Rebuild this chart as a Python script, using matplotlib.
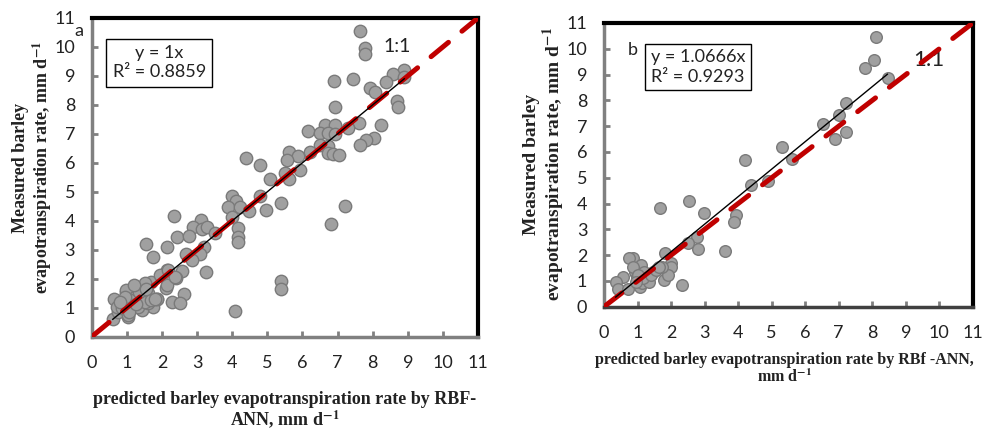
import matplotlib
matplotlib.use("Agg")
import matplotlib.pyplot as plt
import numpy as np

plt.rcParams['font.family'] = ['Lato', 'DejaVu Sans']
plt.rcParams['mathtext.fontset'] = 'stix'

# panel a: predicted (RBF-ANN) vs measured, mm/d
a_pred = [7.65, 7.77, 7.77, 8.88, 8.57, 8.88, 7.43, 6.90, 8.38, 7.91, 8.07, 8.68, 8.71, 6.92,
          7.60, 8.23, 7.30, 6.64, 6.92, 6.17, 6.50, 6.74, 6.92, 8.03, 7.81, 7.65, 6.51, 6.74,
          6.22, 6.74, 6.88, 7.03, 5.63, 5.88, 5.57, 4.40, 4.80, 5.94, 5.50, 5.09, 5.63, 3.99,
          4.80, 4.12, 3.88, 4.21, 4.47, 4.97, 5.40, 7.21, 4.00, 2.33, 3.11, 6.82, 2.89, 3.15,
          3.29, 3.52, 4.17, 4.17, 4.17, 2.43, 2.77, 1.54, 2.15, 3.19, 3.08, 2.68, 2.86, 1.75,
          3.25, 2.15, 2.58, 2.39, 1.99, 1.70, 2.11, 2.15, 1.28, 1.51, 5.40, 5.40, 2.62, 2.30,
          2.51, 1.86, 0.99, 0.99, 4.07, 0.63, 0.61, 1.04, 1.42, 1.66, 1.75, 0.76, 0.71, 0.99,
          1.23, 1.42, 1.60, 1.85, 1.42, 1.04, 1.18, 0.90, 1.61, 1.94, 2.16, 2.37, 1.14, 1.33,
          0.86, 1.51, 1.70, 1.10, 0.95, 1.80, 1.36, 1.20, 0.80, 1.55, 1.05, 1.25]
a_meas = [10.54, 9.97, 9.75, 9.22, 9.08, 8.96, 8.90, 8.81, 8.78, 8.58, 8.43, 8.13, 7.91, 7.92,
          7.39, 7.31, 7.20, 7.30, 7.30, 7.09, 7.03, 7.03, 7.01, 6.85, 6.78, 6.61, 6.61, 6.59,
          6.36, 6.35, 6.30, 6.27, 6.38, 6.25, 6.09, 6.16, 5.94, 5.74, 5.65, 5.43, 5.43, 4.85,
          4.86, 4.68, 4.48, 4.48, 4.33, 4.37, 4.62, 4.51, 4.14, 4.16, 4.02, 3.89, 3.79, 3.70,
          3.77, 3.59, 3.74, 3.43, 3.28, 3.43, 3.47, 3.20, 3.10, 3.10, 2.85, 2.87, 2.64, 2.76,
          2.23, 2.30, 2.28, 2.01, 2.13, 1.90, 1.67, 1.80, 1.72, 1.84, 1.92, 1.63, 1.47, 1.21,
          1.17, 1.29, 1.38, 1.55, 0.90, 1.29, 0.60, 0.69, 0.94, 1.15, 1.03, 0.86, 1.03, 1.61,
          1.38, 1.44, 1.50, 1.29, 0.92, 0.75, 1.15, 1.15, 1.15, 2.13, 2.30, 2.05, 0.98, 1.03,
          0.98, 1.20, 1.26, 1.26, 1.38, 1.30, 1.55, 1.80, 1.20, 1.65, 0.85, 1.12]

# panel b
b_pred = [8.12, 8.04, 7.77, 8.47, 7.23, 7.01, 6.54, 7.21, 6.88, 5.31, 5.60, 4.21, 4.37, 4.88,
          1.68, 2.54, 2.99, 3.93, 3.88, 3.62, 2.77, 2.81, 2.51, 1.82, 2.01, 1.99, 1.80, 1.92,
          1.72, 2.34, 0.87, 0.75, 1.11, 0.91, 0.87, 0.57, 0.37, 0.42, 0.72, 1.06, 1.26, 1.30,
          1.45, 1.60, 1.18, 0.98, 1.13, 1.33, 1.16, 1.00, 0.95, 1.41, 1.55, 1.65]
b_meas = [10.47, 9.56, 9.24, 8.85, 7.91, 7.43, 7.08, 6.77, 6.49, 6.20, 5.74, 5.69, 4.72, 4.88,
          3.81, 4.11, 3.64, 3.55, 3.30, 2.17, 2.69, 2.24, 2.48, 2.09, 1.71, 1.55, 1.03, 1.23,
          1.53, 0.84, 1.87, 1.87, 1.62, 1.36, 1.55, 1.14, 0.97, 0.67, 0.67, 0.78, 1.03, 1.23,
          1.36, 1.49, 1.36, 1.17, 0.91, 0.97, 1.10, 1.23, 0.97, 1.23, 1.42, 1.55]

ticks = list(range(0, 12))
slope_a, r2_a, fit_a = 1.0, 0.8859, (0.6, 8.9)
slope_b, r2_b, fit_b = 1.0666, 0.9293, (0.35, 8.45)

ylab = 'Measured barley\nevapotranspiration rate, mm d$^{\\mathbf{-1}}$'
xlab_a = 'predicted barley evapotranspiration rate by RBF-\nANN, mm d$^{\\mathbf{-1}}$'
xlab_b = 'predicted barley evapotranspiration rate by RBf -ANN,\nmm d$^{\\mathbf{-1}}$'

fig = plt.figure(figsize=(9.85, 4.29), dpi=100)
ax_a = fig.add_axes([0.0931, 0.2152, 0.3922, 0.7430])
ax_b = fig.add_axes([0.6132, 0.2851, 0.3745, 0.6613])


def style_axes(ax):
    ax.set_xlim(0, 11)
    ax.set_ylim(0, 11)
    ax.set_xticks(ticks)
    ax.set_yticks(ticks)
    ax.tick_params(direction='in', length=4, width=2, color='#808080',
                   labelsize=13, labelcolor='#222222')
    ax.tick_params(axis='x', pad=13)
    ax.tick_params(axis='y', pad=12)
    for side in ['left', 'bottom']:
        ax.spines[side].set_color('#808080')
        ax.spines[side].set_linewidth(2.5)
    for side in ['top', 'right']:
        ax.spines[side].set_color('black')
        ax.spines[side].set_linewidth(3)


def labels(ax, ysize, ypos, xsize, xpos):
    ax.set_ylabel(ylab, family='Liberation Serif', weight='bold', fontsize=ysize,
                  linespacing=1.05, color='#222222')
    ax.yaxis.set_label_coords(*ypos)
    ax.yaxis.label.set_va('center')
    xl = xlab_a if ax is ax_a else xlab_b
    ax.set_xlabel(xl, family='Liberation Serif', weight='bold', fontsize=xsize,
                  linespacing=1.05, color='#222222')
    ax.xaxis.set_label_coords(*xpos)
    ax.xaxis.label.set_va('center')


def draw_panel(ax, pred, meas, slope, fit_range, msize):
    ax.plot([0, 11], [0, 11], color='#c00000', lw=3.6, dashes=(4.5, 3.5),
            dash_capstyle='round', zorder=4)
    ax.scatter(pred, meas, s=msize, facecolor='#a0a0a0', edgecolor='#7a7a7a',
               linewidth=1, zorder=3)
    xs = np.array(fit_range)
    ax.plot(xs, slope * xs, color='black', lw=1, zorder=5)


# panel a
draw_panel(ax_a, a_pred, a_meas, slope_a, fit_a, 80)
style_axes(ax_a)
labels(ax_a, 13, (-0.152, 0.53), 13, (0.5, -0.233))
ax_a.text(0.175, 0.86, 'y = 1x\nR² = {:.4f}'.format(r2_a), transform=ax_a.transAxes,
          ha='center', va='center', fontsize=13, linespacing=1.25, color='#222222',
          bbox=dict(boxstyle='square,pad=0.35', facecolor='white', edgecolor='black', lw=1),
          zorder=6)
ax_a.text(-0.032, 0.958, 'a', transform=ax_a.transAxes, ha='center', va='center',
          fontsize=13, color='#222222')
ax_a.text(8.7, 10.0, '1:1', ha='center', va='center', fontsize=14, color='#222222')

# panel b
draw_panel(ax_b, b_pred, b_meas, slope_b, fit_b, 70)
style_axes(ax_b)
ax_b.spines['bottom'].set_color('#404040')
labels(ax_b, 14, (-0.16, 0.503), 11.5, (0.49, -0.22))
ax_b.text(0.255, 0.845, 'y = 1.0666x\nR² = {:.4f}'.format(r2_b), transform=ax_b.transAxes,
          ha='center', va='center', fontsize=13, linespacing=1.25, color='#222222',
          bbox=dict(boxstyle='square,pad=0.3', facecolor='white', edgecolor='black', lw=1),
          zorder=6)
ax_b.text(0.077, 0.905, 'b', transform=ax_b.transAxes, ha='center', va='center',
          fontsize=13, color='#222222')
ax_b.text(9.7, 9.55, '1:1', ha='center', va='center', fontsize=16, color='#222222', zorder=2)

fig.savefig('out.png', dpi=100)
